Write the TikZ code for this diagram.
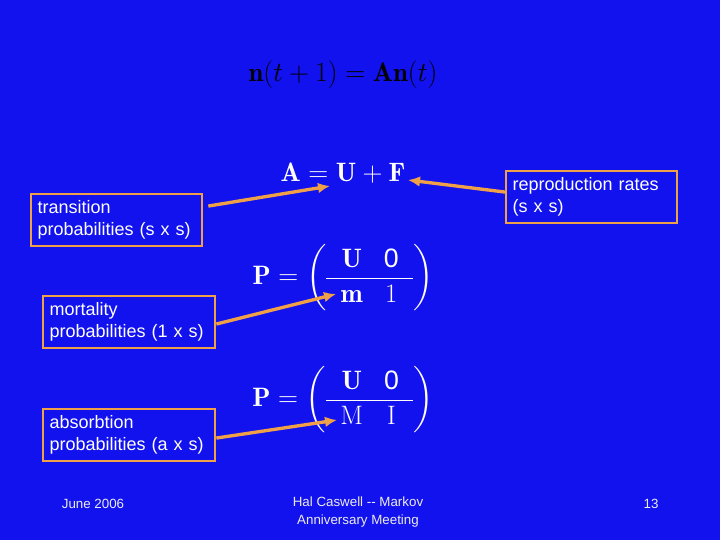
\documentclass[tikz,border=0pt]{standalone}
\usepackage{amsmath}
\usepackage{fontspec}
\setsansfont{Liberation Sans}
\usetikzlibrary{arrows.meta}
\definecolor{bg}{RGB}{18,18,238}
\definecolor{org}{RGB}{240,160,70}
\tikzset{
  lbl/.style={draw=org,line width=1.5pt,text=white,font=\sffamily\fontsize{13.5}{16.5}\selectfont,align=left,anchor=north west,inner sep=5pt},
  arr/.style={org,line width=2.5pt,-{Latex[length=9pt,width=8pt]}},
  math/.style={text=white,font=\fontsize{20}{24}\selectfont},
  foot/.style={text=white!85!gray,font=\sffamily\fontsize{10}{13}\selectfont,align=center}
}
\begin{document}
\begin{tikzpicture}[x=0.75pt,y=-0.75pt]
\fill[bg] (0,0) rectangle (720,540);
\useasboundingbox (0,0) rectangle (720,540);
\node[font=\fontsize{20}{24}\selectfont] (eq) at (343,75) {$\mathbf{n}(t+1)=\mathbf{A}\mathbf{n}(t)$};
\node[math] (a) at (343,173) {$\mathbf{A}=\mathbf{U}+\mathbf{F}$};
\node[math] (p1) at (343,278) {$\mathbf{P}=\left(\renewcommand{\arraystretch}{1.1}\begin{array}{cc}\;\mathbf{U}\; & \mathsf{0}\;\\\hline \;\mathbf{m}\; & \mathrm{1}\;\end{array}\right)$};
\node[math] (p2) at (343,400) {$\mathbf{P}=\left(\renewcommand{\arraystretch}{1.1}\begin{array}{cc}\;\mathbf{U}\; & \mathsf{0}\;\\\hline \;\mathrm{M}\; & \mathrm{I}\;\end{array}\right)$};
\node[lbl,text width=158pt*0.75] (t) at (30,193) {transition\\probabilities (s x s)};
\node[lbl,text width=158pt*0.75] (r) at (505,170) {reproduction rates\\(s x s)};
\node[lbl,text width=159pt*0.75] (m) at (42,295) {mortality\\probabilities (1 x s)};
\node[lbl,text width=159pt*0.75] (ab) at (42,408) {absorbtion\\probabilities (a x s)};
\coordinate (ta) at (330,186);
\coordinate (fa) at (408,180);
\coordinate (ma) at (336,294);
\coordinate (aa) at (337,420);
\draw[arr] (t.east) ++(5,-14) -- (ta);
\draw[arr] (r.west) ++(0,-5) -- (fa);
\draw[arr] (m.east) ++(0,2) -- (ma);
\draw[arr] (ab.east) ++(0,3) -- (aa);
\node[foot] (d) at (93,504) {June 2006};
\node[foot] (h) at (358,512) {Hal Caswell -{}- Markov\\Anniversary Meeting};
\node[foot] (n) at (651,504) {13};
\end{tikzpicture}
\end{document}
